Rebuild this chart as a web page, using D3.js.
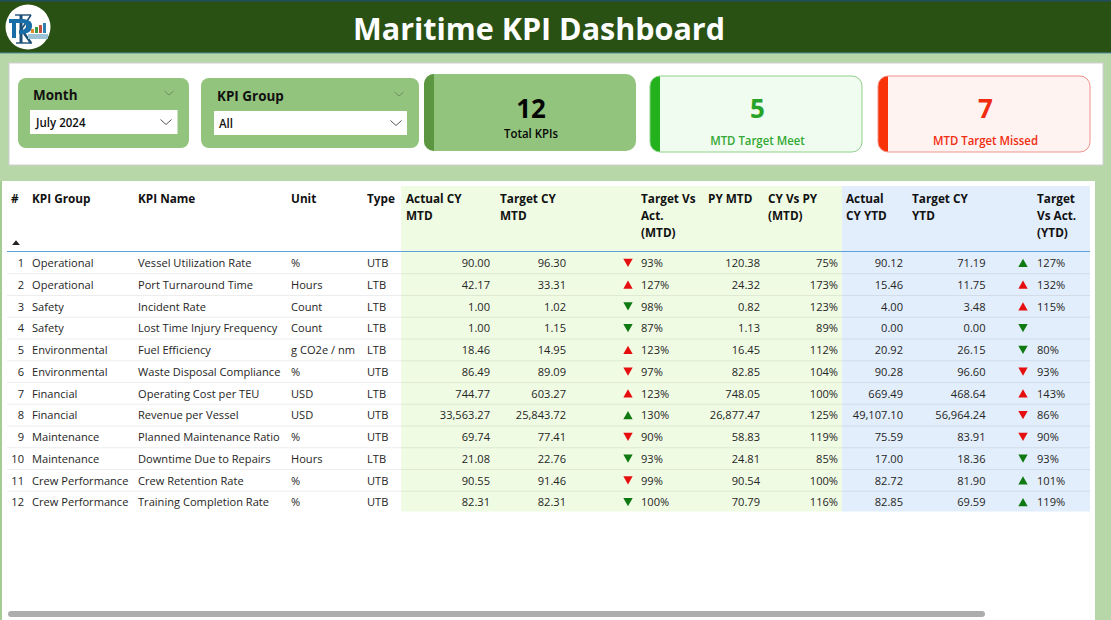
<!DOCTYPE html>
<html><head><meta charset="utf-8">
<script src="https://cdn.jsdelivr.net/npm/d3@7/dist/d3.min.js"></script>
<style>html,body{margin:0;padding:0;background:#b7d7a8;overflow:hidden}svg{display:block}text{font-family:"Open Sans","Noto Sans",sans-serif}</style>
</head><body><div id="chart"></div>
<script>
const title = "Maritime KPI Dashboard";
const slicerTitles = ["Month", "KPI Group"];
const slicerValues = ["July 2024", "All"];
const cardValues = [12, 5, 7];
const cardLabels = ["Total KPIs", "MTD Target Meet", "MTD Target Missed"];

const ranks = [1,2,3,4,5,6,7,8,9,10,11,12];
const groups = ["Operational","Operational","Safety","Safety","Environmental","Environmental","Financial","Financial","Maintenance","Maintenance","Crew Performance","Crew Performance"];
const names = ["Vessel Utilization Rate","Port Turnaround Time","Incident Rate","Lost Time Injury Frequency","Fuel Efficiency","Waste Disposal Compliance","Operating Cost per TEU","Revenue per Vessel","Planned Maintenance Ratio","Downtime Due to Repairs","Crew Retention Rate","Training Completion Rate"];
const units = ["%","Hours","Count","Count","g CO2e / nm","%","USD","USD","%","Hours","%","%"];
const types = ["UTB","LTB","LTB","LTB","LTB","UTB","LTB","UTB","UTB","LTB","UTB","UTB"];
const actualMTD = [90.00,42.17,1.00,1.00,18.46,86.49,744.77,33563.27,69.74,21.08,90.55,82.31];
const targetMTD = [96.30,33.31,1.02,1.15,14.95,89.09,603.27,25843.72,77.41,22.76,91.46,82.31];
const arrowMTD = ["dr","ur","dg","dg","ur","dr","ur","ug","dr","dg","dr","dg"];
const pctMTD = [93,127,98,87,123,97,123,130,90,93,99,100];
const pyMTD = [120.38,24.32,0.82,1.13,16.45,82.85,748.05,26877.47,58.83,24.81,90.54,70.79];
const cyVsPy = [75,173,123,89,112,104,100,125,119,85,100,116];
const actualYTD = [90.12,15.46,4.00,0.00,20.92,90.28,669.49,49107.10,75.59,17.00,82.72,82.85];
const targetYTD = [71.19,11.75,3.48,0.00,26.15,96.60,468.64,56964.24,83.91,18.36,81.90,69.59];
const arrowYTD = ["ug","ur","ur","dg","dg","dr","ur","dr","dr","dg","ug","ug"];
const pctYTD = [127,132,115,null,80,93,143,86,90,93,101,119];

const W = 1111, H = 620;
const svg = d3.select("#chart").append("svg").attr("width",W).attr("height",H).attr("viewBox",`0 0 ${W} ${H}`);
const rect=(x,y,w,h,fill,extra={})=>{const r=svg.append("rect").attr("x",x).attr("y",y).attr("width",w).attr("height",h).attr("fill",fill);Object.entries(extra).forEach(([k,v])=>r.attr(k,v));return r;};
const narrow=(sel,k)=>sel.each(function(){const L=this.getComputedTextLength();if(L>0){this.setAttribute("textLength",L*k);this.setAttribute("lengthAdjust","spacingAndGlyphs");}});
const txt=(x,y,s,size,fill,weight=400,anchor="start",k=1)=>narrow(svg.append("text").attr("x",x).attr("y",y).attr("font-size",size).attr("font-weight",weight).attr("fill",fill).attr("text-anchor",anchor).text(s),k);
const chev=(cx,cy,w,col)=>svg.append("path").attr("d",d3.line()([[cx-w,cy-w/2.2],[cx,cy+w/2.2],[cx+w,cy-w/2.2]])).attr("fill","none").attr("stroke",col).attr("stroke-width",1);

// background and header
rect(0,0,W,H,"#b7d7a8");
rect(0,0,W,53,"#2a5114");
rect(0,0,W,1.5,"#1f4e5f");
rect(0,52.5,W,1,"#4f8f9f");
txt(539,39.5,title,31,"#ffffff",700,"middle").attr("textLength",372).attr("lengthAdjust","spacingAndGlyphs");

// logo (drawn as shapes, it is an image in the source)
svg.append("circle").attr("cx",28).attr("cy",27).attr("r",22.5).attr("fill","#ffffff");
const logoLine=d3.line();
const logoStroke=(pts,col,w)=>svg.append("path").attr("d",logoLine(pts)).attr("fill","none").attr("stroke",col).attr("stroke-width",w);
logoStroke([[21,15],[21,43]],"#1c4f78",3);
logoStroke([[15,15],[31,15]],"#1c4f78",1.4);
logoStroke([[16,43],[32,43]],"#1c4f78",1.4);
logoStroke([[21,30],[31,15]],"#1c4f78",1.6);
logoStroke([[21,29],[31,43]],"#1c4f78",2.4);
svg.append("path").attr("d","M9,19 L24,19 Q33,20 32,27 Q31,34 22,34 L19,34 L19,30 L22,30 Q26,29 26,26 Q26,23 22,23 L16,23 L16,38 L12,38 L12,23 L9,23 Z").attr("fill","#1a6ea8");
const logoBars=[[31,4,"#e08a2e"],[35,6,"#3a9a4a"],[39,8,"#c9503c"],[43,10,"#2f7fb0"]];
svg.selectAll(".lb").data(logoBars).join("rect").attr("x",d=>d[0]).attr("y",d=>33-d[1]).attr("width",3).attr("height",d=>d[1]).attr("fill",d=>d[2]);
rect(28,34,20,5,"#9cc3d6");

// slicer panel
rect(9,63,1094,102,"#ffffff",{stroke:"#d0cfd2","stroke-width":1});
rect(18,78,171,70,"#93c47d",{rx:8});
rect(201,78,218,70,"#93c47d",{rx:8});
txt(33,100,slicerTitles[0],14,"#111",700,"start",.96);
txt(217,101,slicerTitles[1],14,"#111",700,"start",.96);
chev(169,93,4.5,"#6f8f62"); chev(399,94,4.5,"#6f8f62");
rect(30,110,147.5,24,"#ffffff"); rect(214,111,193,24,"#ffffff");
txt(36,127,slicerValues[0],12,"#111",600,"start",.96);
txt(219,128,slicerValues[1],12,"#111",600,"start",.96);
chev(166,122,5.5,"#555"); chev(396,123,5.5,"#555");

// cards
function card(x,y,w,h,fill,band,stroke,valueCol,labelCol,val,lab,vy,ly,r,dx){
  const clipId="c"+x;
  svg.append("clipPath").attr("id",clipId).append("rect").attr("x",x).attr("y",y).attr("width",w).attr("height",h).attr("rx",r);
  rect(x,y,w,h,fill,{rx:r});
  svg.append("rect").attr("x",x).attr("y",y).attr("width",band).attr("height",h).attr("fill",stroke.b).attr("clip-path",`url(#${clipId})`);
  if(stroke.s) rect(x,y,w,h,"none",{rx:r,stroke:stroke.s,"stroke-width":1});
  txt(x+w/2+dx,vy,val,27,valueCol,700,"middle",.96);
  txt(x+w/2+dx,ly,lab,12,labelCol,600,"middle",.95);
}
card(424,74,212,77,"#93c47d",10,{b:"#5d9640"},"#050505","#050505",cardValues[0],cardLabels[0],118,138,10,1);
card(650,76,212,76,"#f1fcf0",10,{b:"#23b11e",s:"#8fd08a"},"#27a327","#33a833",cardValues[1],cardLabels[1],118,145,10,1.5);
card(878,76,212,76,"#fef3f1",10,{b:"#fa3208",s:"#f0928a"},"#f02c10","#f02c10",cardValues[2],cardLabels[2],118,145,10,1.5);

// table panel
rect(2,181,1093,H-181,"#ffffff");
rect(0,181,2,H-181,"#a4cc94");
const y = d3.scaleBand().domain(ranks).range([252,513]);
const tableTop=186, tableBottom=y.range()[1]-1.5;
rect(401,tableTop,441,tableBottom-tableTop,"#f0fbe4");
rect(842,tableTop,248,tableBottom-tableTop,"#e2eefb");

// header
const headers=[
 {x:11,l:["#"]},{x:32,l:["KPI Group"]},{x:138,l:["KPI Name"]},{x:291,l:["Unit"]},{x:367,l:["Type"]},
 {x:406,l:["Actual CY","MTD"]},{x:500,l:["Target CY","MTD"]},{x:641,l:["Target Vs","Act.","(MTD)"]},
 {x:708,l:["PY MTD"]},{x:768,l:["CY Vs PY","(MTD)"]},{x:846,l:["Actual","CY YTD"]},{x:912,l:["Target CY","YTD"]},{x:1037,l:["Target","Vs Act.","(YTD)"]}];
headers.forEach(h=>h.l.forEach((s,i)=>txt(h.x,203+i*17,s,12,"#111",700,"start",.98)));
svg.append("path").attr("d",d3.symbol(d3.symbolTriangle,26)()).attr("transform","translate(16,243.5) scale(1,.7)").attr("fill","#222");
rect(7,251,1083,1,"#5ba3d9");

// row separators
svg.selectAll(".sep").data(ranks.slice(0,-1)).join("rect").attr("class","sep")
  .attr("x",7).attr("width",1083).attr("y",d=>y(d)+y.step()-.5).attr("height",1).attr("fill","#000").attr("fill-opacity",.07);

const f2=d3.format(",.2f");
const pct=v=>v==null?"":v+"%";
const ty=d=>y(d)+y.bandwidth()/2+4.2;
const TC="#252525";
const colText=(vals,x,anchor,fmt=d=>d)=>narrow(svg.append("g").selectAll("text").data(ranks).join("text")
  .attr("x",x).attr("y",ty).attr("text-anchor",anchor).attr("font-size",11.5).attr("fill",TC).text((d,i)=>fmt(vals[i])),.965);
colText(ranks,24,"end");
colText(groups,32,"start");
colText(names,138,"start");
colText(units,291,"start");
colText(types,367,"start");
colText(actualMTD,490,"end",f2);
colText(targetMTD,566,"end",f2);
colText(pctMTD,641,"start",pct);
colText(pyMTD,760,"end",f2);
colText(cyVsPy,838,"end",pct);
colText(actualYTD,903,"end",f2);
colText(targetYTD,985.5,"end",f2);
colText(pctYTD,1037,"start",pct);

const tri=d3.symbol(d3.symbolTriangle,38)();
const arrowCols=(vals,x)=>svg.append("g").selectAll("path").data(ranks).join("path").attr("d",tri)
  .attr("fill",(d,i)=>vals[i][1]==="r"?"#e60f0f":"#0f7a12")
  .attr("transform",(d,i)=>{const up=vals[i][0]==="u";return `translate(${x},${y(d)+y.bandwidth()/2+(up?1.4:-1.4)}) scale(1,${up?1:-1})`;});
arrowCols(arrowMTD,628);
arrowCols(arrowYTD,1023);

// scrollbar
rect(8,611,977,6,"#adadad",{rx:3});
</script></body></html>
